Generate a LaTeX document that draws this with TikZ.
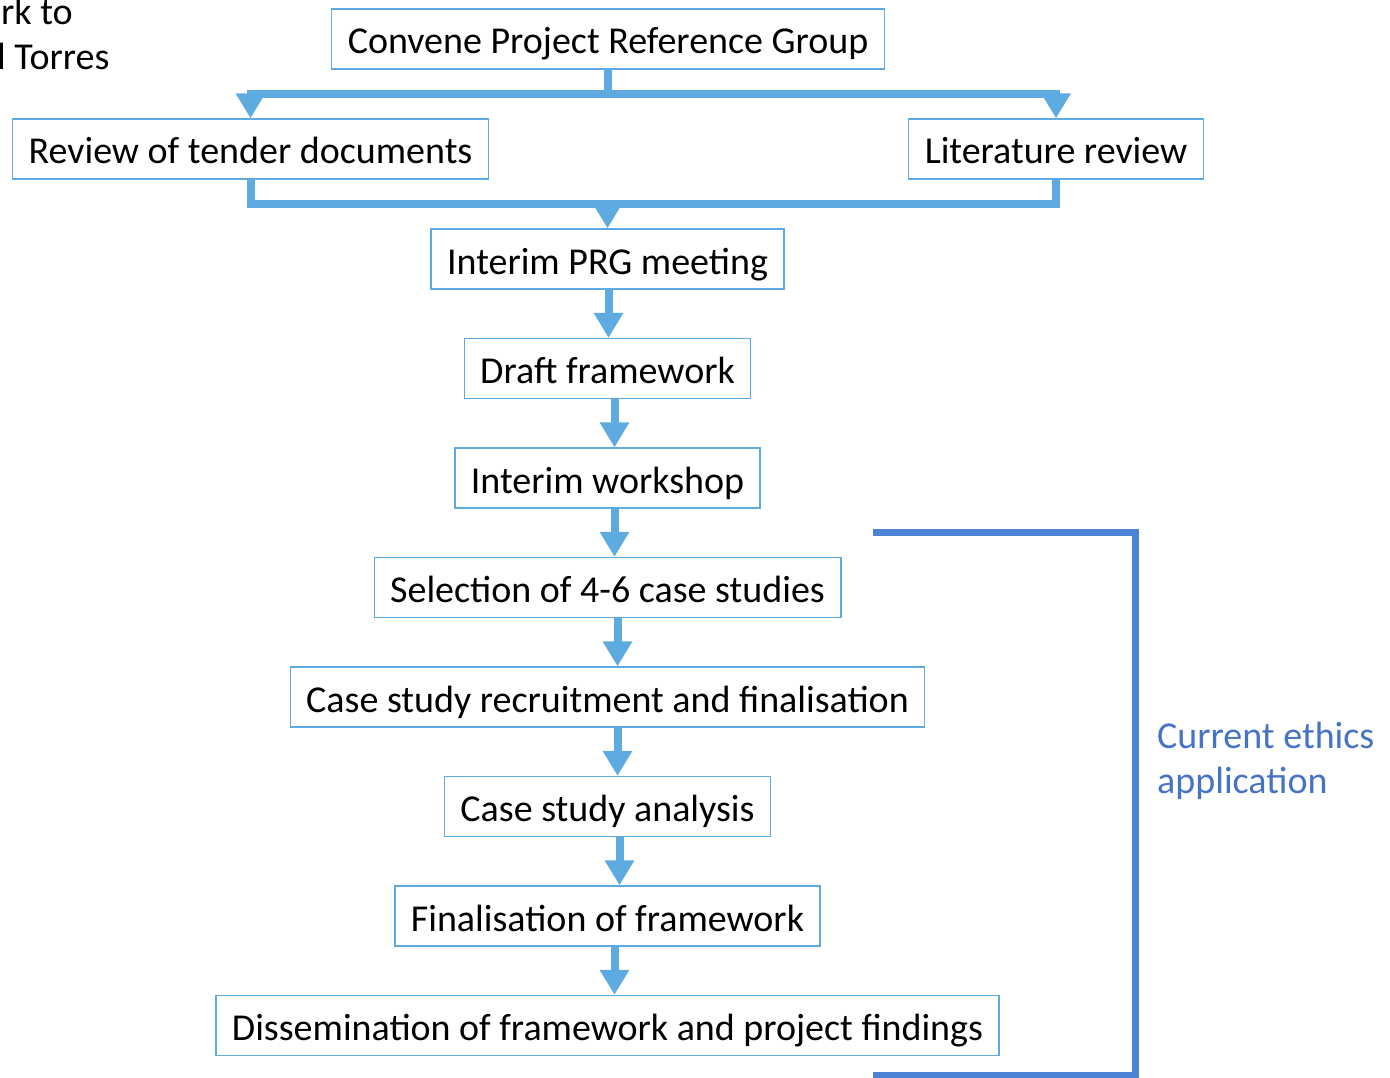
\documentclass[tikz,border=0pt]{standalone}
\usepackage{fontspec}
\setmainfont{Carlito}
\usepackage{tikz}
\usetikzlibrary{positioning,arrows.meta}

\definecolor{flowblue}{RGB}{93,171,225}
\definecolor{ethicsblue}{RGB}{78,130,212}
\definecolor{ethicstext}{RGB}{70,115,200}

\tikzset{
  stage/.style={draw=flowblue, line width=1.3pt, fill=white,
    minimum height=60pt, inner xsep=16pt, inner ysep=0pt,
    text height=36pt, text depth=6pt,
    font=\fontsize{38}{45}\selectfont},
  link/.style={draw=flowblue, line width=8pt},
  flow/.style={link, -{Triangle[width=28pt,length=25pt]}},
  note/.style={font=\fontsize{38}{45}\selectfont, inner sep=0pt}
}

\begin{document}
\begin{tikzpicture}[x=1pt, y=1pt, node distance=48.2pt]
  \useasboundingbox (0,0) rectangle (1390,-1078);

  % Define nodes
  \node[note, anchor=base west] (cut1) at (1,-25) {rk to};
  \node[note, anchor=base west] (cut2) at (-3,-70) {l Torres};

  \node[stage] (conv) at (608,-39) {Convene Project Reference Group};
  \node[stage] (rev)  at (250.5,-149) {Review of tender documents};
  \node[stage] (lit)  at (1056,-149) {Literature review};
  \node[stage] (prg)  at (607.5,-259) {Interim PRG meeting};
  \node[stage, below=of prg]   (draft) {Draft framework};
  \node[stage, below=of draft] (ws)    {Interim workshop};
  \node[stage, below=of ws]    (sel)   {Selection of 4-6 case studies};
  \node[stage, below=of sel]   (rec)   {Case study recruitment and finalisation};
  \node[stage, below=of rec]   (ana)   {Case study analysis};
  \node[stage, below=of ana]   (fin)   {Finalisation of framework};
  \node[stage, below=of fin]   (dis)   {Dissemination of framework and project findings};

  \node[note, anchor=base west, align=left, text=ethicstext] (ethics) at (1157,-793)
    {Current ethics\\application};

  % Connect the nodes
  \draw[link] (conv.south) -- ++(0,-24) coordinate (split);
  \draw[flow] (split) -| (rev.north);
  \draw[flow] (split) -| (lit.north);

  \draw[link] (rev.south) -- ++(0,-24) coordinate (join) -| (lit.south);
  \draw[flow] (join -| prg) -- (prg.north);

  \foreach \a/\b/\s in {prg/draft/1, draft/ws/7, ws/sel/7, sel/rec/10,
                        rec/ana/10, ana/fin/12, fin/dis/7}
    \draw[flow] ([xshift=\s]\a.south) -- ([xshift=\s]\b.north);

  % Bracket for the ethics application
  \coordinate (b1) at (873,-532);
  \coordinate (b2) at (1135,-532);
  \coordinate (b3) at (1135,-1075);
  \coordinate (b4) at (873,-1075);
  \draw[ethicsblue, line width=7pt] (b1) -- (b2) -- (b3) -- (b4);
\end{tikzpicture}
\end{document}
